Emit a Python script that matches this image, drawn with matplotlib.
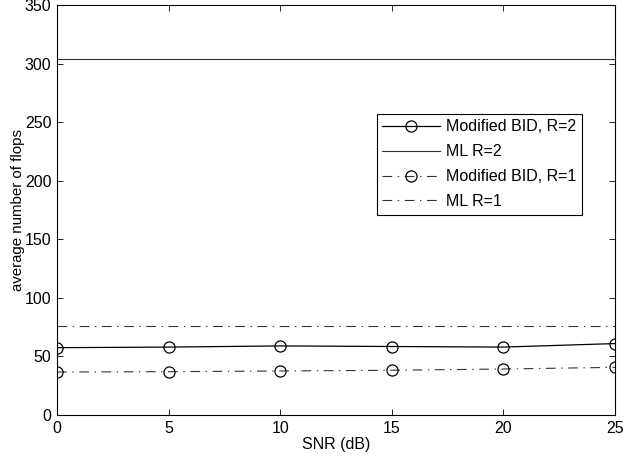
import matplotlib
matplotlib.use("Agg")
import matplotlib.pyplot as plt
import numpy as np

plt.rcParams['font.family'] = ['Liberation Sans', 'DejaVu Sans']
plt.rcParams['font.size'] = 11.5
plt.rcParams['lines.scale_dashes'] = False

snr = [0, 5, 10, 15, 20, 25]
bid_r2 = [57.5, 58, 59, 58.5, 58, 61]
ml_r2 = [304, 304, 304, 304, 304, 304]
bid_r1 = [36.7, 37, 37.6, 38.2, 39.3, 40.7]
ml_r1 = [76, 76, 76, 76, 76, 76]

dashdot = (0, (7, 4, 1, 4))

fig = plt.figure(figsize=(6.42, 4.65), dpi=100)
ax = fig.add_axes([0.0888, 0.1075, 0.869, 0.8815])

ax.plot(snr, bid_r2, '-', color='k', lw=0.9, marker='o', ms=8, mfc='none', mec='k', mew=0.9,
        label='Modified BID, R=2')
ax.plot(snr, ml_r2, '-', color='#333333', lw=0.8, label='ML R=2')
ax.plot(snr, bid_r1, linestyle=dashdot, color='#333333', lw=0.8, marker='o', ms=8,
        mfc='none', mec='k', mew=0.9, label='Modified BID, R=1')
ax.plot(snr, ml_r1, linestyle=dashdot, color='#333333', lw=0.8, label='ML R=1')

ax.set_xlim(0, 25)
ax.set_ylim(0, 350)
ax.set_xticks(snr)
ax.set_yticks(np.arange(0, 351, 50))
ax.tick_params(direction='in', top=True, right=True, length=4, width=0.6, pad=4)
for s in ax.spines.values():
    s.set_linewidth(0.8)
ax.set_xlabel('SNR (dB)', labelpad=1)
ax.set_ylabel('average number of flops', fontsize=10.8, labelpad=0)

leg = ax.legend(loc='upper right', bbox_to_anchor=(0.941, 0.735), fancybox=False,
                edgecolor='k', framealpha=1, borderaxespad=0, handlelength=3.6,
                handletextpad=0.4, labelspacing=0.62, borderpad=0.35)
leg.get_frame().set_linewidth(0.8)

fig.savefig('out.png', dpi=100)
